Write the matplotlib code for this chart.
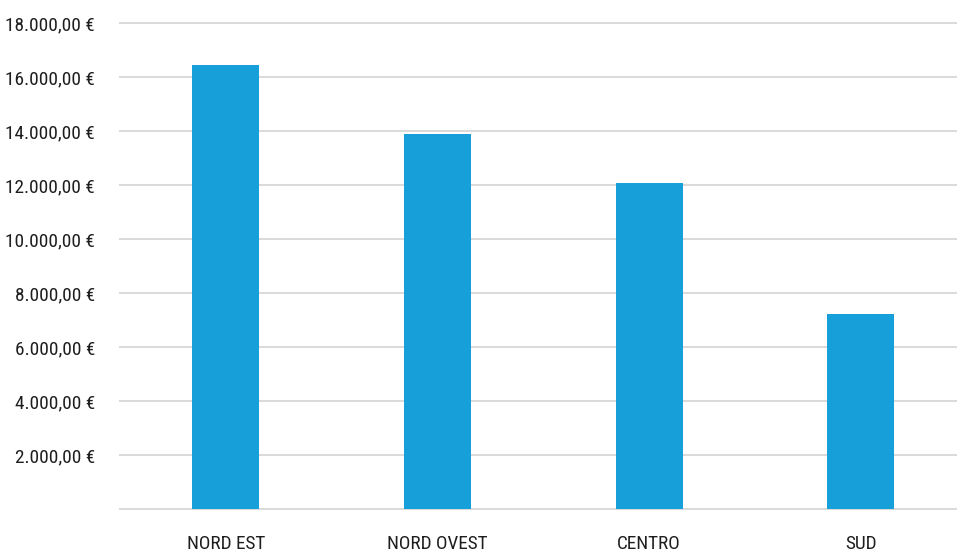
import matplotlib
matplotlib.use("Agg")
import matplotlib.pyplot as plt
from matplotlib import font_manager
from matplotlib.ticker import FuncFormatter
from matplotlib.textpath import TextPath
from matplotlib.font_manager import FontProperties

# dati
regioni = ["NORD EST", "NORD OVEST", "CENTRO", "SUD"]
valori = [16450, 13880, 12070, 7220]
tick_y = [0, 2000, 4000, 6000, 8000, 10000, 12000, 14000, 16000, 18000]

# font stretto se disponibile
names = {f.name for f in font_manager.fontManager.ttflist}
candidati = ["Liberation Sans Narrow", "Roboto Condensed", "Open Sans Condensed",
             "DejaVu Sans Condensed", "Roboto", "DejaVu Sans"]
fam = next(c for c in candidati if c in names or c == "DejaVu Sans")
plt.rcParams['font.family'] = [fam, 'DejaVu Sans']


def euro(v, pos):
    if v == 0:
        return ""
    s = f"{v:,.2f}".replace(",", "X").replace(".", ",").replace("X", ".")
    return s + " €"


# dimensione del testo: "18.000,00 €" largo circa 87 px
fp = FontProperties(family=fam, size=10)
w10 = TextPath((0, 0), euro(18000, 0), prop=fp).get_extents().width
fs = min(17, 10 * 87 / (w10 * 100 / 72))

W, H = 957, 553
fig = plt.figure(figsize=(W / 100, H / 100), dpi=100)
ax = fig.add_axes([120 / W, 44 / H, (W - 120) / W, (509 - 23) / H])

x = range(len(regioni))
ax.bar(x, valori, width=0.316, color="#179fda", zorder=3)

ax.set_xlim(-0.5, 3.454)
ax.set_ylim(0, 18000)
ax.set_yticks(tick_y)
ax.yaxis.set_major_formatter(FuncFormatter(euro))
ax.set_xticks(list(x))
ax.set_xticklabels(regioni)

ax.grid(axis="y", color="#d9d9d9", linewidth=1.4, zorder=0)
for sp in ax.spines.values():
    sp.set_visible(False)
ax.tick_params(axis="both", length=0, labelsize=fs, labelcolor="#1e1e1e")
ax.tick_params(axis="y", pad=18)
ax.tick_params(axis="x", pad=19)
for gl in ax.get_ygridlines():
    gl.set_clip_on(False)

fig.savefig("out.png", dpi=100)
